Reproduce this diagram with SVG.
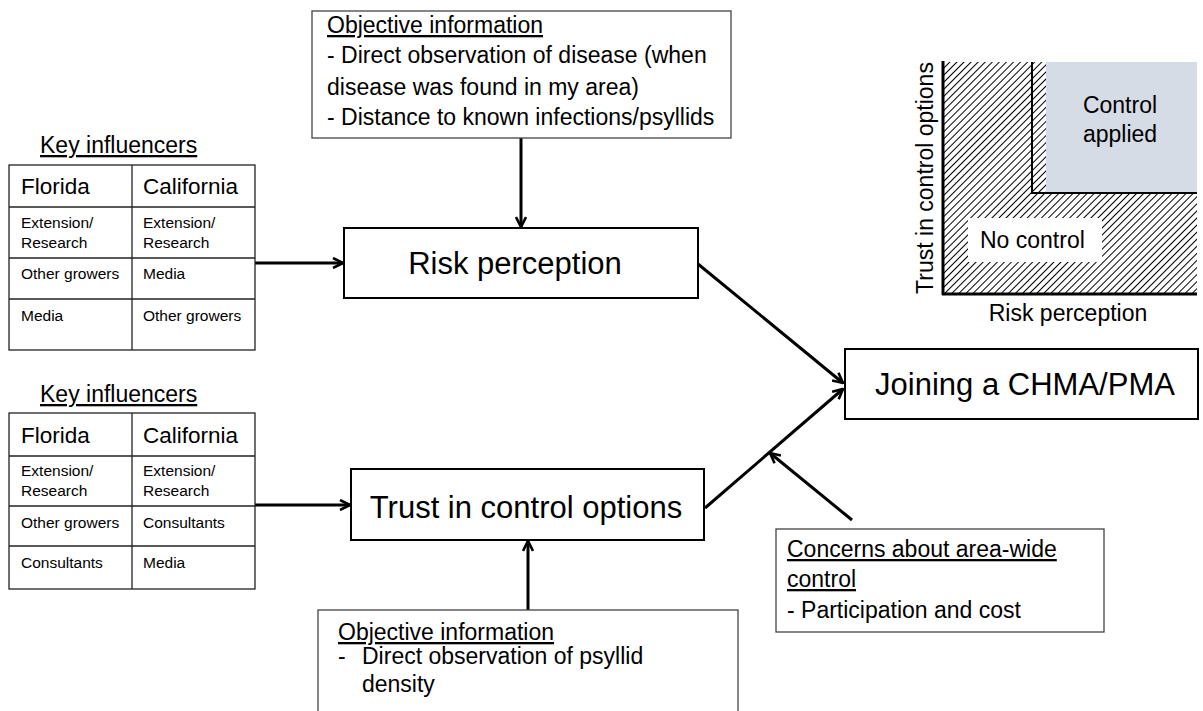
<svg xmlns="http://www.w3.org/2000/svg" width="1203" height="711" viewBox="0 0 1203 711">
<style>
text{font-family:"Liberation Sans",Arial,sans-serif;fill:#000}
.big{font-size:31px}
.mid{font-size:23px}
.sm{font-size:15.5px}
.hdr{font-size:22.5px}
.box{fill:#fff;stroke:#000;stroke-width:2}
.tbox{fill:#fff;stroke:#444;stroke-width:1.3}
.grid{fill:none;stroke:#222;stroke-width:1.3}
.conn{stroke:#000;stroke-width:3;fill:none}
.ul{text-decoration:underline}
</style>
<defs>
<marker id="arr" viewBox="0 0 12 12" refX="11" refY="6" markerWidth="12" markerHeight="12" markerUnits="userSpaceOnUse" orient="auto">
<path d="M1,1 L11,6 L1,11" fill="none" stroke="#000" stroke-width="2.6"/>
</marker>
<pattern id="hatch" patternUnits="userSpaceOnUse" width="5" height="5" patternTransform="rotate(45)">
<rect width="5" height="5" fill="#fff"/>
<line x1="0" y1="0" x2="0" y2="5" stroke="#000" stroke-width="2"/>
</pattern>
</defs>

<g id="connectors">
<line class="conn" x1="521" y1="138" x2="521" y2="227" marker-end="url(#arr)"/>
<line class="conn" x1="255" y1="263" x2="343" y2="263" marker-end="url(#arr)"/>
<line class="conn" x1="255" y1="505" x2="350" y2="505" marker-end="url(#arr)"/>
<line class="conn" x1="528" y1="610" x2="528" y2="541" marker-end="url(#arr)"/>
<line class="conn" x1="698" y1="264" x2="843" y2="383" marker-end="url(#arr)"/>
<line class="conn" x1="705" y1="508" x2="843" y2="389" marker-end="url(#arr)"/>
<line class="conn" x1="852" y1="520" x2="770" y2="453" marker-end="url(#arr)"/>
</g>

<g id="objective-top">
<rect class="tbox" x="312" y="11" width="419" height="127"/>
<text class="mid ul" x="327" y="33">Objective information</text>
<text class="mid" x="327" y="63">- Direct observation of disease (when</text>
<text class="mid" x="327" y="95">disease was found in my area)</text>
<text class="mid" x="327" y="125">- Distance to known infections/psyllids</text>
</g>

<g id="risk-perception">
<rect class="box" x="344" y="228" width="354" height="70"/>
<text class="big" x="515" y="274" text-anchor="middle">Risk perception</text>
</g>

<g id="trust">
<rect class="box" x="351" y="469" width="353" height="71"/>
<text class="big" x="526" y="518" text-anchor="middle">Trust in control options</text>
</g>

<g id="joining">
<rect class="box" x="845" y="349" width="353" height="70"/>
<text class="big" x="1025" y="395" text-anchor="middle">Joining a CHMA/PMA</text>
</g>

<g id="key-influencers-1">
<text class="mid ul" x="40" y="153">Key influencers</text>
<rect class="grid" x="9" y="165" width="246" height="185"/>
<line class="grid" x1="132" y1="165" x2="132" y2="350"/>
<line class="grid" x1="9" y1="207" x2="255" y2="207"/>
<line class="grid" x1="9" y1="258" x2="255" y2="258"/>
<line class="grid" x1="9" y1="299" x2="255" y2="299"/>
<text class="hdr" x="21" y="194">Florida</text>
<text class="hdr" x="143" y="194">California</text>
<text class="sm" x="21" y="228">Extension/</text>
<text class="sm" x="21" y="248">Research</text>
<text class="sm" x="143" y="228">Extension/</text>
<text class="sm" x="143" y="248">Research</text>
<text class="sm" x="21" y="279">Other growers</text>
<text class="sm" x="143" y="279">Media</text>
<text class="sm" x="21" y="321">Media</text>
<text class="sm" x="143" y="321">Other growers</text>
</g>

<g id="key-influencers-2">
<text class="mid ul" x="40" y="402">Key influencers</text>
<rect class="grid" x="9" y="413" width="246" height="176"/>
<line class="grid" x1="132" y1="413" x2="132" y2="589"/>
<line class="grid" x1="9" y1="456" x2="255" y2="456"/>
<line class="grid" x1="9" y1="506" x2="255" y2="506"/>
<line class="grid" x1="9" y1="546" x2="255" y2="546"/>
<text class="hdr" x="21" y="443">Florida</text>
<text class="hdr" x="143" y="443">California</text>
<text class="sm" x="21" y="476">Extension/</text>
<text class="sm" x="21" y="496">Research</text>
<text class="sm" x="143" y="476">Extension/</text>
<text class="sm" x="143" y="496">Research</text>
<text class="sm" x="21" y="528">Other growers</text>
<text class="sm" x="143" y="528">Consultants</text>
<text class="sm" x="21" y="568">Consultants</text>
<text class="sm" x="143" y="568">Media</text>
</g>

<g id="objective-bottom">
<rect class="tbox" x="318" y="610" width="420" height="110"/>
<text class="mid ul" x="338" y="640">Objective information</text>
<text class="mid" x="338" y="664">-</text>
<text class="mid" x="362" y="664">Direct observation of psyllid</text>
<text class="mid" x="362" y="692">density</text>
</g>

<g id="concerns">
<rect class="tbox" x="776" y="529" width="328" height="103"/>
<text class="mid ul" x="787" y="557">Concerns about area-wide</text>
<text class="mid ul" x="787" y="587">control</text>
<text class="mid" x="787" y="618">- Participation and cost</text>
</g>

<g id="chart">
<rect x="943" y="62" width="254" height="232" fill="url(#hatch)"/>
<rect x="1046" y="62" width="151" height="131" fill="#d6dce5"/>
<polyline points="1032,62 1032,193 1197,193" fill="none" stroke="#000" stroke-width="2"/>
<rect x="968" y="218" width="134" height="44" fill="#fff"/>
<line x1="943" y1="61" x2="943" y2="295" stroke="#000" stroke-width="3"/>
<line x1="942" y1="294" x2="1197" y2="294" stroke="#000" stroke-width="3"/>
<text class="mid" x="1120" y="113" text-anchor="middle">Control</text>
<text class="mid" x="1120" y="142" text-anchor="middle">applied</text>
<text class="mid" x="980" y="248">No control</text>
<text class="mid" x="1068" y="321" text-anchor="middle">Risk perception</text>
<text class="mid" x="0" y="0" text-anchor="middle" transform="translate(933,178) rotate(-90)">Trust in control options</text>
</g>
</svg>
